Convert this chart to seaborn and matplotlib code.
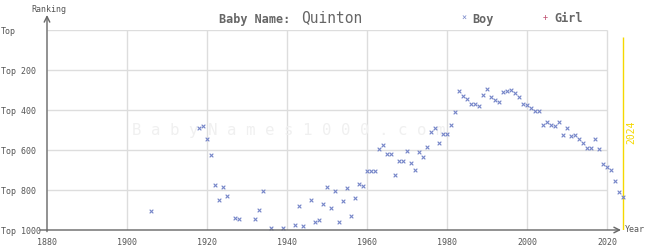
import matplotlib
matplotlib.use("Agg")
import matplotlib.pyplot as plt
import seaborn as sns
import pandas as pd

years = [1906, 1918, 1919, 1920, 1921, 1922, 1923, 1924, 1925, 1927, 1928,
         1932, 1933, 1934, 1936, 1939, 1942, 1943, 1944, 1946, 1947, 1948,
         1949, 1950, 1951, 1952, 1953, 1954, 1955, 1956, 1957, 1958, 1959,
         1960, 1961, 1962, 1963, 1964, 1965, 1966, 1967, 1968, 1969, 1970,
         1971, 1972, 1973, 1974, 1975, 1976, 1977, 1978, 1979, 1980, 1981,
         1982, 1983, 1984, 1985, 1986, 1987, 1988, 1989, 1990, 1991, 1992,
         1993, 1994, 1995, 1996, 1997, 1998, 1999, 2000, 2001, 2002, 2003,
         2004, 2005, 2006, 2007, 2008, 2009, 2010, 2011, 2012, 2013, 2014,
         2015, 2016, 2017, 2018, 2019, 2020, 2021, 2022, 2023, 2024]
boy_rank = [906, 492, 482, 547, 627, 777, 852, 787, 832, 942, 947,
            947, 902, 807, 992, 992, 977, 882, 982, 852, 962, 952,
            872, 787, 892, 807, 962, 857, 792, 932, 842, 772, 782,
            707, 707, 707, 597, 577, 622, 622, 727, 657, 657, 607,
            667, 702, 612, 637, 587, 512, 492, 567, 522, 522, 477,
            412, 307, 332, 347, 372, 372, 382, 327, 297, 337, 352,
            362, 312, 307, 302, 317, 337, 372, 377, 392, 407, 407,
            477, 462, 477, 482, 462, 527, 492, 532, 527, 547, 567,
            592, 592, 547, 597, 672, 687, 702, 757, 812, 837]

x_ticks = [1880, 1900, 1920, 1940, 1960, 1980, 2000, 2020]
y_ticks = [0, 200, 400, 600, 800, 1000]
y_tick_labels = ["Top", "Top 200", "Top 400", "Top 600", "Top 800", "Top 1000"]

df = pd.DataFrame({"year": years, "rank": boy_rank})

sns.set_style("white")
plt.rcParams["font.family"] = ["DejaVu Sans Mono", "DejaVu Sans"]

W, H = 645, 250
fig = plt.figure(figsize=(W / 100, H / 100), dpi=100)
ax = fig.add_axes([47 / W, 20 / H, (631 - 47) / W, 200 / H])
ax.set_xlim(1880, 2026)
ax.set_ylim(1000, 0)
for s in ax.spines.values():
    s.set_visible(False)

grid_c = "#dddddd"
ax.hlines([0, 200, 400, 600, 800], 1880, 2020, color=grid_c, lw=1, zorder=0)
ax.vlines(x_ticks[1:], 0, 1000, color=grid_c, lw=1, zorder=0)

# watermark
ax.text(1940.5, 505, "B a b y N a m e s 1 0 0 0 . c o m", color="#f0f0f0",
        fontsize=11.3, ha="center", va="center", zorder=0)

# 2024 marker line
ax.vlines([2024], 35, 1000, color="#f5d800", lw=1, zorder=1)
ax.text(2026, 510, "2024", rotation=90, color="#f5d800", fontsize=7,
        ha="center", va="center", clip_on=False)

sns.scatterplot(data=df, x="year", y="rank", marker="x", s=7, linewidth=0.8,
                color="#7585c8", ax=ax, zorder=3, clip_on=False, legend=False)

ax.set_xlabel("")
ax.set_ylabel("")
ax.set_xticks(x_ticks)
ax.set_xticklabels([str(v) for v in x_ticks])
ax.set_yticks(y_ticks)
ax.set_yticklabels(y_tick_labels)
ax.tick_params(axis="x", length=0, pad=6, labelsize=6, labelcolor="#555555")
ax.tick_params(axis="y", length=0, pad=33, labelsize=6, labelcolor="#555555")
for lab in ax.get_yticklabels():
    lab.set_horizontalalignment("left")

axis_c = "#666666"
ax.annotate("", xy=(1880, -75), xytext=(1880, 1008),
            arrowprops=dict(arrowstyle="->", color=axis_c, lw=1,
                            shrinkA=0, shrinkB=0),
            annotation_clip=False)
ax.annotate("", xy=(2023.5, 1000), xytext=(1878.2, 1000),
            arrowprops=dict(arrowstyle="->", color=axis_c, lw=1,
                            shrinkA=0, shrinkB=0),
            annotation_clip=False)

fig.text(49 / W, 1 - 9 / H, "Ranking", fontsize=6, color="#555555",
         ha="center", va="center")
fig.text(625 / W, 1 - 230 / H, "Year", fontsize=6, color="#555555",
         ha="left", va="center")

fig.text(219 / W, 1 - 19 / H, "Baby Name:", fontsize=8.5, color="#666666",
         ha="left", va="center", fontweight="bold")
fig.text(301 / W, 1 - 18 / H, "Quinton", fontsize=10.5, color="#666666",
         ha="left", va="center")
fig.text(464 / W, 1 - 18 / H, "×", fontsize=6, color="#7585c8",
         ha="center", va="center")
fig.text(472 / W, 1 - 19 / H, "Boy", fontsize=8.5, color="#666666",
         ha="left", va="center", fontweight="bold")
fig.text(545 / W, 1 - 18 / H, "+", fontsize=6, color="#c05070",
         ha="center", va="center")
fig.text(554 / W, 1 - 19 / H, "Girl", fontsize=8.5, color="#666666",
         ha="left", va="center", fontweight="bold")

fig.savefig("out.png", dpi=100)
